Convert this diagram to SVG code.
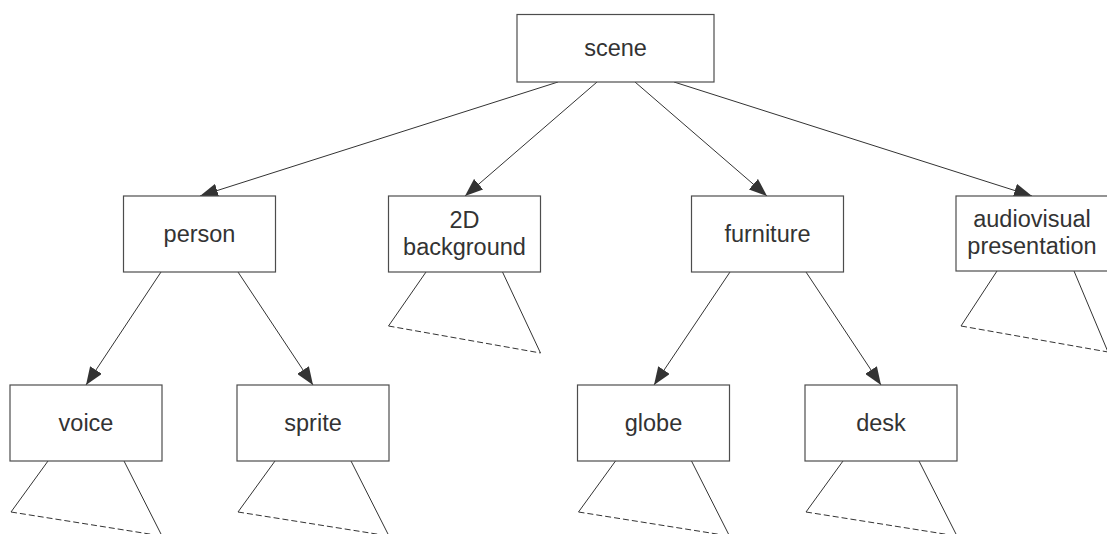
<svg xmlns="http://www.w3.org/2000/svg" width="1107" height="534" viewBox="0 0 1107 534">
  <defs>
    <style>
      .box { fill: #ffffff; stroke: #4d4d4d; stroke-width: 1.2; }
      .lbl { font-family: "Liberation Sans", Arial, Helvetica, sans-serif; font-size: 23.5px; fill: #333333; text-anchor: middle; }
      .edge { stroke: #333333; stroke-width: 1; fill: none; marker-end: url(#arrow); }
      .side { stroke: #333333; stroke-width: 1; fill: none; }
      .base { stroke: #333333; stroke-width: 1; fill: none; stroke-dasharray: 6 3; }
    </style>
    <marker id="arrow" markerUnits="userSpaceOnUse" markerWidth="19" markerHeight="14" refX="18" refY="7" orient="auto">
      <path d="M0,0 L18,7 L0,14 Z" fill="#333333"/>
    </marker>
  </defs>
  <rect width="1107" height="534" fill="#ffffff"/>

  <!-- connectors -->
  <g id="connectors">
    <line class="edge" x1="558" y1="82" x2="200" y2="196"/>
    <line class="edge" x1="597" y1="82" x2="465" y2="196"/>
    <line class="edge" x1="635" y1="82" x2="767" y2="196"/>
    <line class="edge" x1="674" y1="82" x2="1032" y2="196"/>
    <line class="edge" x1="161" y1="272" x2="86" y2="385"/>
    <line class="edge" x1="238" y1="272" x2="313" y2="385"/>
    <line class="edge" x1="730" y1="272" x2="654" y2="385"/>
    <line class="edge" x1="806" y1="272" x2="881" y2="385"/>
  </g>

  <!-- collapsed subtrees (open triangles) -->
  <g id="subtrees">
    <g id="sub-2d">
      <polyline class="side" points="426,272 388.5,326"/>
      <polyline class="side" points="502.5,272 540.5,353"/>
      <line class="base" x1="388.5" y1="326" x2="540.5" y2="353"/>
    </g>
    <g id="sub-av">
      <polyline class="side" points="997,271 961,326"/>
      <polyline class="side" points="1074,271 1108,352"/>
      <line class="base" x1="961" y1="326" x2="1108" y2="352"/>
    </g>
    <g id="sub-voice">
      <polyline class="side" points="48,461 11,512"/>
      <polyline class="side" points="124,461 162,536"/>
      <line class="base" x1="11" y1="512" x2="162" y2="536"/>
    </g>
    <g id="sub-sprite">
      <polyline class="side" points="275,461 238,512"/>
      <polyline class="side" points="351,461 389,536"/>
      <line class="base" x1="238" y1="512" x2="389" y2="536"/>
    </g>
    <g id="sub-globe">
      <polyline class="side" points="615.5,461 578.5,512"/>
      <polyline class="side" points="691.5,461 729.5,536"/>
      <line class="base" x1="578.5" y1="512" x2="729.5" y2="536"/>
    </g>
    <g id="sub-desk">
      <polyline class="side" points="843,461 806,512"/>
      <polyline class="side" points="919,461 957,536"/>
      <line class="base" x1="806" y1="512" x2="957" y2="536"/>
    </g>
  </g>

  <!-- nodes -->
  <g id="scene">
    <rect class="box" x="517" y="14.5" width="197" height="67.5"/>
    <text class="lbl" x="615.5" y="56">scene</text>
  </g>
  <g id="person">
    <rect class="box" x="123.5" y="196" width="152" height="76"/>
    <text class="lbl" x="199.5" y="242">person</text>
  </g>
  <g id="background2d">
    <rect class="box" x="388.5" y="196" width="152" height="76"/>
    <text class="lbl" x="464.5" y="228">2D</text>
    <text class="lbl" x="464.5" y="255">background</text>
  </g>
  <g id="furniture">
    <rect class="box" x="691.5" y="196" width="152" height="76"/>
    <text class="lbl" x="767.5" y="242">furniture</text>
  </g>
  <g id="audiovisual">
    <rect class="box" x="956" y="196" width="152" height="75"/>
    <text class="lbl" x="1032" y="227">audiovisual</text>
    <text class="lbl" x="1032" y="254">presentation</text>
  </g>
  <g id="voice">
    <rect class="box" x="10" y="385" width="152" height="76"/>
    <text class="lbl" x="86" y="431">voice</text>
  </g>
  <g id="sprite">
    <rect class="box" x="237" y="385" width="152" height="76"/>
    <text class="lbl" x="313" y="431">sprite</text>
  </g>
  <g id="globe">
    <rect class="box" x="577.5" y="385" width="152" height="76"/>
    <text class="lbl" x="653.5" y="431">globe</text>
  </g>
  <g id="desk">
    <rect class="box" x="805" y="385" width="152" height="76"/>
    <text class="lbl" x="881" y="431">desk</text>
  </g>
</svg>
